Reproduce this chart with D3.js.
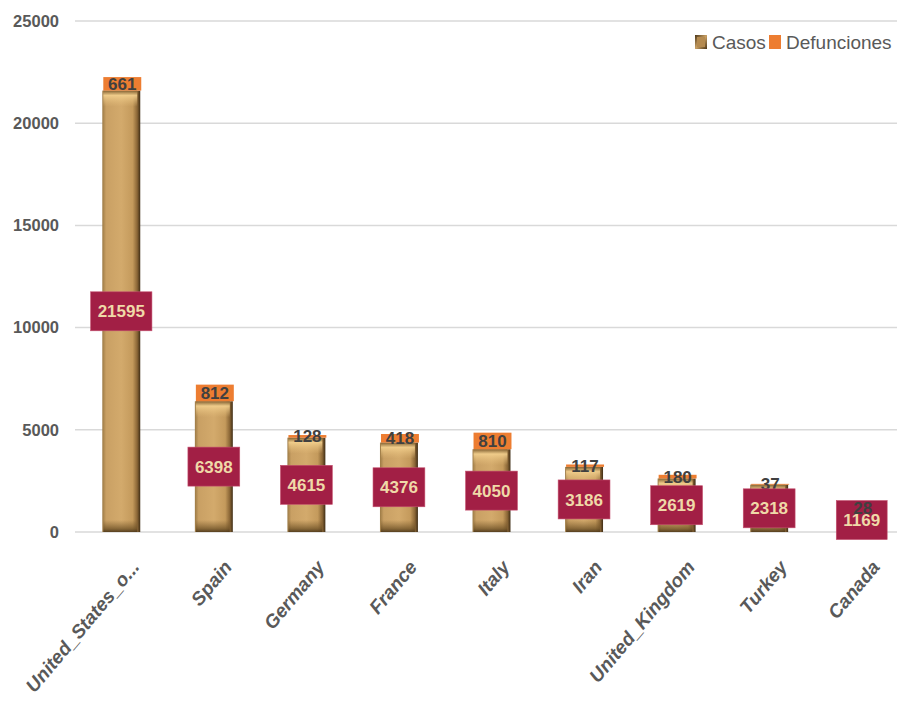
<!DOCTYPE html>
<html><head><meta charset="utf-8">
<script src="https://cdn.jsdelivr.net/npm/d3@7"></script>
<style>body{margin:0;background:#fff;}svg{display:block;font-family:"Liberation Sans",Arial,sans-serif;}</style>
</head><body>
<svg id="chart" width="897" height="706"></svg>
<script>
const categories = ["United_States_o...","Spain","Germany","France","Italy","Iran","United_Kingdom","Turkey","Canada"];
const casos = [21595,6398,4615,4376,4050,3186,2619,2318,1169];
const defunciones = [661,812,128,418,810,117,180,37,28];
const yTicks = [0,5000,10000,15000,20000,25000];
const seriesNames = ["Casos","Defunciones"];

const svg = d3.select("#chart");
const W = 897, H = 706;
const x = d3.scaleBand().domain(categories).range([75, 908]).paddingInner(0.59).paddingOuter(0.295);
const y = d3.scaleLinear().domain([0,25000]).range([532, 21]);

const defs = svg.append("defs");
const gh = defs.append("linearGradient").attr("id","gold").attr("x1","0").attr("x2","1").attr("y1","0").attr("y2","0");
[["0%","#9c7a45"],["10%","#c9a064"],["50%","#d3aa6c"],["80%","#c49a5c"],["92%","#8a6636"],["100%","#3e2c14"]].forEach(s=>gh.append("stop").attr("offset",s[0]).attr("stop-color",s[1]));
const gt = defs.append("linearGradient").attr("id","topbev").attr("x1","0").attr("x2","0").attr("y1","0").attr("y2","1");
[["0%","#7a5a2c",0.9],["30%","#f3d08e",0.9],["100%","#e6bf7c",0]].forEach(s=>gt.append("stop").attr("offset",s[0]).attr("stop-color",s[1]).attr("stop-opacity",s[2]));
const gb = defs.append("linearGradient").attr("id","botbev").attr("x1","0").attr("x2","0").attr("y1","0").attr("y2","1");
[["0%","#7a5a2c",0],["70%","#6b4f25",0.7],["100%","#4a3518",0.9]].forEach(s=>gb.append("stop").attr("offset",s[0]).attr("stop-color",s[1]).attr("stop-opacity",s[2]));
const glg = defs.append("linearGradient").attr("id","leggold").attr("x1","0").attr("x2","1").attr("y1","0").attr("y2","1");
[["0%","#4a3518"],["50%","#c9a064"],["100%","#4a3518"]].forEach(s=>glg.append("stop").attr("offset",s[0]).attr("stop-color",s[1]));

// gridlines
svg.append("g").selectAll("line").data(yTicks).join("line")
  .attr("x1",75).attr("x2",W).attr("y1",d=>y(d)).attr("y2",d=>y(d))
  .attr("stroke","#d9d9d9").attr("stroke-width",1.5);

// y axis
const yAxis = d3.axisLeft(y).tickValues(yTicks).tickSize(0).tickPadding(16).tickFormat(d3.format("d"));
const ya = svg.append("g").attr("transform","translate(75,0)").call(yAxis);
ya.select(".domain").remove();
ya.selectAll("text").attr("font-size",16.5).attr("font-weight","bold").attr("fill","#595959")
  .attr("font-family","Liberation Sans, Arial, sans-serif");

const data = categories.map((c,i)=>({c, casos:casos[i], def:defunciones[i]}));
const bw = x.bandwidth();

const bars = svg.append("g");
bars.selectAll("rect.casos").data(data).join("rect").attr("class","casos")
  .attr("x",d=>x(d.c)).attr("width",bw)
  .attr("y",d=>y(d.casos)).attr("height",d=>y(0)-y(d.casos))
  .attr("fill","url(#gold)");
bars.selectAll("rect.tb").data(data).join("rect").attr("class","tb")
  .attr("x",d=>x(d.c)+1).attr("width",bw-4)
  .attr("y",d=>y(d.casos)).attr("height",d=>Math.min(16,(y(0)-y(d.casos))/2))
  .attr("fill","url(#topbev)");
bars.selectAll("rect.bb").data(data).join("rect").attr("class","bb")
  .attr("x",d=>x(d.c)+1).attr("width",bw-4)
  .attr("y",d=>y(0)-Math.min(12,(y(0)-y(d.casos))/2)).attr("height",d=>Math.min(12,(y(0)-y(d.casos))/2))
  .attr("fill","url(#botbev)");
bars.selectAll("rect.def").data(data).join("rect").attr("class","def")
  .attr("x",d=>x(d.c)+1).attr("width",bw)
  .attr("y",d=>y(d.casos+d.def)).attr("height",d=>y(d.casos)-y(d.casos+d.def))
  .attr("fill","#ed7d31");

// defunciones labels (non-Canada drawn below boxes)
svg.append("g").selectAll("text").data(data.filter(d=>d.c!=="Canada")).join("text")
  .attr("x",d=>x(d.c)+bw/2+1).attr("y",d=>(y(d.casos)+y(d.casos+d.def))/2)
  .attr("dy","0.36em").attr("text-anchor","middle")
  .attr("font-size",17).attr("font-weight","bold").attr("fill","#404040")
  .text(d=>d.def);

// casos labels with boxes
const lg = svg.append("g");
data.forEach(d=>{
  const cx = x(d.c)+bw/2, cy = y(d.casos/2);
  const g = lg.append("g");
  const t = g.append("text").attr("x",cx).attr("y",cy).attr("dy","0.36em").attr("text-anchor","middle")
    .attr("font-size",17).attr("font-weight","bold").attr("fill","#efd9a8").text(d.casos);
  const w = t.node().getComputedTextLength();
  g.insert("rect","text").attr("x",cx-w/2-7).attr("y",cy-19.5).attr("width",w+14).attr("height",39)
    .attr("fill","#a21f45").attr("stroke","#c4506e").attr("stroke-width",0.6);
});
// Canada defunciones label drawn on top of its box, as in the reference
svg.append("g").selectAll("text").data(data.filter(d=>d.c==="Canada")).join("text")
  .attr("x",d=>x(d.c)+bw/2+1).attr("y",d=>(y(d.casos)+y(d.casos+d.def))/2)
  .attr("dy","0.36em").attr("text-anchor","middle")
  .attr("font-size",17).attr("font-weight","bold").attr("fill","#404040").text(d=>d.def);

// x axis labels
const xAxis = d3.axisBottom(x).tickSize(0).tickPadding(0);
const xa = svg.append("g").attr("transform","translate(0,545)").call(xAxis);
xa.select(".domain").remove();
xa.selectAll("text")
  .attr("font-size",19).attr("font-weight","bold").attr("font-style","italic").attr("fill","#595959")
  .attr("font-family","Liberation Sans, Arial, sans-serif")
  .attr("text-anchor","end").attr("dy","0.7em")
  .attr("transform","translate(9,14) rotate(-50)");

// legend
const leg = svg.append("g");
leg.append("rect").attr("x",695).attr("y",35).attr("width",12).attr("height",14).attr("fill","url(#leggold)");
leg.append("rect").attr("x",697).attr("y",37).attr("width",8).attr("height",10).attr("fill","#b48a50");
leg.append("text").attr("x",712).attr("y",42).attr("dy","0.36em").attr("font-size",19).attr("fill","#595959").text(seriesNames[0]);
leg.append("rect").attr("x",769).attr("y",35).attr("width",12).attr("height",14).attr("fill","#ed7d31");
leg.append("text").attr("x",786).attr("y",42).attr("dy","0.36em").attr("font-size",19).attr("fill","#595959").text(seriesNames[1]);
</script>
</body></html>
